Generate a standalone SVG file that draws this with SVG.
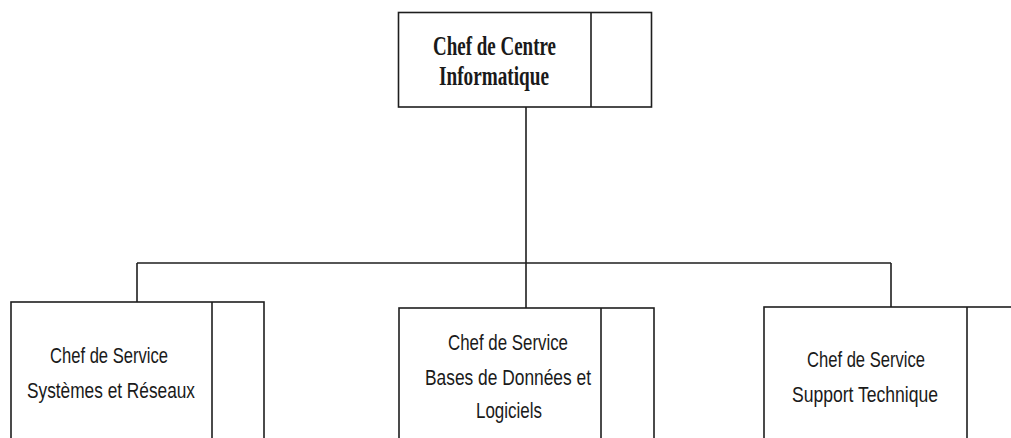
<svg xmlns="http://www.w3.org/2000/svg" width="1011" height="438" viewBox="0 0 1011 438">
  <style>
    .box { fill: #ffffff; stroke: #1e1e1e; stroke-width: 1.6; }
    .div { stroke: #1e1e1e; stroke-width: 1.6; }
    .link { fill: none; stroke: #1e1e1e; stroke-width: 1.6; }
    .link-soft { fill: none; stroke: #555555; stroke-width: 2; }
    .head { font-family: "Liberation Serif", "DejaVu Serif", serif; font-size: 27px; font-weight: bold; fill: #1a1a1a; text-anchor: middle; }
    .unit { font-family: "Liberation Sans", "DejaVu Sans", sans-serif; font-size: 22px; fill: #1a1a1a; text-anchor: middle; }
  </style>
  <rect width="1011" height="438" fill="#ffffff"/>

  <!-- connectors -->
  <g id="connectors">
    <line class="link" x1="526" y1="107" x2="526" y2="308"/>
    <line class="link" x1="137" y1="263" x2="640" y2="263"/>
    <line class="link-soft" x1="640" y1="263" x2="891" y2="263"/>
    <line class="link" x1="137" y1="263" x2="137" y2="302"/>
    <line class="link" x1="891" y1="263" x2="891" y2="307"/>
  </g>

  <!-- top: centre head -->
  <g id="chef-centre">
    <rect class="box" x="398.5" y="12.5" width="253" height="94.5"/>
    <line class="div" x1="591" y1="12.5" x2="591" y2="107"/>
    <text class="head" x="494.5" y="55" textLength="123" lengthAdjust="spacingAndGlyphs">Chef de Centre</text>
    <text class="head" x="494" y="85" textLength="110" lengthAdjust="spacingAndGlyphs">Informatique</text>
  </g>

  <!-- left: systems and networks -->
  <g id="systemes-reseaux">
    <rect class="box" x="11" y="302" width="253" height="150"/>
    <line class="div" x1="212" y1="302" x2="212" y2="440"/>
    <text class="unit" x="109" y="363" textLength="118" lengthAdjust="spacingAndGlyphs">Chef de Service</text>
    <text class="unit" x="111" y="398" textLength="168" lengthAdjust="spacingAndGlyphs">Systèmes et Réseaux</text>
  </g>

  <!-- middle: databases and software -->
  <g id="bases-donnees">
    <rect class="box" x="399" y="308" width="255" height="150"/>
    <line class="div" x1="601" y1="308" x2="601" y2="440"/>
    <text class="unit" x="508" y="350" textLength="120" lengthAdjust="spacingAndGlyphs">Chef de Service</text>
    <text class="unit" x="508" y="385" textLength="166" lengthAdjust="spacingAndGlyphs">Bases de Données et</text>
    <text class="unit" x="509" y="418" textLength="66" lengthAdjust="spacingAndGlyphs">Logiciels</text>
  </g>

  <!-- right: technical support -->
  <g id="support-technique">
    <rect class="box" x="764" y="307" width="270" height="150"/>
    <line class="div" x1="967" y1="307" x2="967" y2="440"/>
    <text class="unit" x="866" y="367" textLength="118" lengthAdjust="spacingAndGlyphs">Chef de Service</text>
    <text class="unit" x="865" y="402" textLength="146" lengthAdjust="spacingAndGlyphs">Support Technique</text>
  </g>
</svg>
